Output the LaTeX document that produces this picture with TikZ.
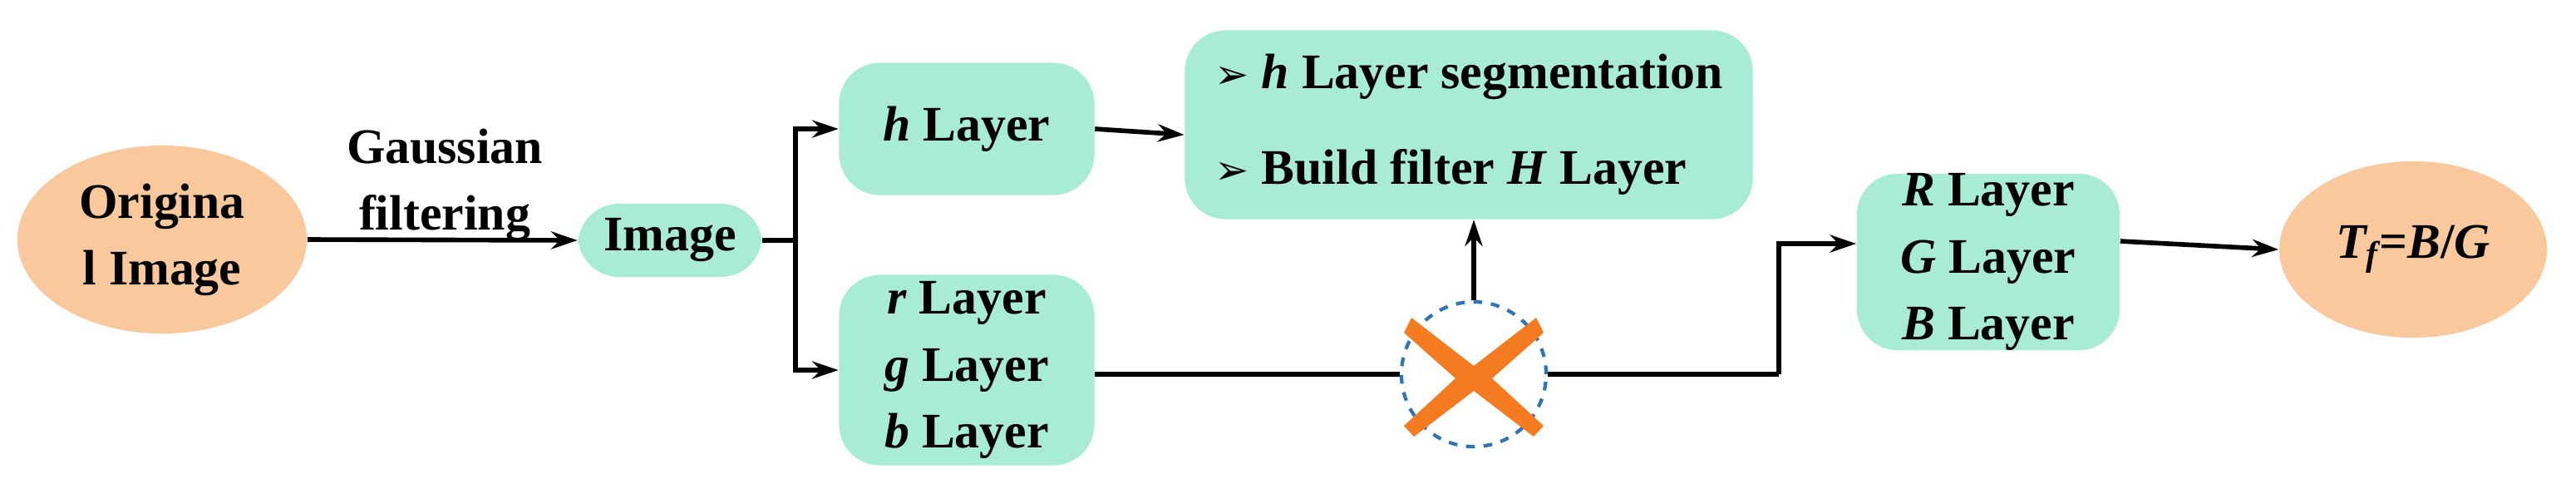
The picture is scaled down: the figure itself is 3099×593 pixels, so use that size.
\documentclass[tikz,border=0pt]{standalone}
\usepackage{fontspec}
\setmainfont{Liberation Serif}
\newfontfamily\dejavu{DejaVu Sans}
\usetikzlibrary{arrows.meta,shapes.geometric}
\definecolor{teal1}{HTML}{A8EBD6}
\definecolor{peach}{HTML}{F9C99D}
\definecolor{xorange}{HTML}{F47B20}
\definecolor{cblue}{HTML}{2E75B6}
\begin{document}
\begin{tikzpicture}[x=0.01cm,y=-0.01cm,
  txt/.style={font=\fontsize{17}{22.8}\selectfont\bfseries},
  box/.style={txt,fill=teal1,rounded corners=14pt,inner sep=0pt,align=center},
  ell/.style={txt,fill=peach,ellipse,inner sep=0pt,align=center},
  line/.style={line width=1.6pt},
  arr/.style={line,-{Stealth[length=9pt,width=6pt]}}]
\useasboundingbox (0,0) rectangle (3099,593);
\node[ell,minimum width=34.8mm,minimum height=22.6mm] (orig) at (195,288) {Origina\\l Image};
\node[box,minimum width=22.1mm,minimum height=8.8mm] (img) at (806,289) {Image};
\node[txt,align=center] (gf) at (535,222) {Gaussian\\filtering};
\node[box,minimum width=30.7mm,minimum height=15.9mm] (h) at (1163,155) {\textit{h} Layer};
\node[box,minimum width=30.7mm,minimum height=22.9mm] (rgb) at (1163,445) {\textit{r} Layer\\\textit{g} Layer\\\textit{b} Layer};
\node[box,minimum width=68.3mm,minimum height=22.7mm,align=left] (seg) at (1767,150)
  {{\dejavu\fontsize{14}{14}\selectfont ➢} \textit{h} Layer segmentation\\[10pt]{\dejavu\fontsize{14}{14}\selectfont ➢} Build filter \textit{H} Layer};
\node[circle,draw=cblue,dashed,line width=1.2pt,minimum size=17.4mm,inner sep=0pt] (mul) at (1773,450) {};
\fill[xorange,shift={(mul.center)}] (-75,-68) -- (0,-10) -- (75,-68) -- (84,-50) -- (22,5) -- (84,62) -- (72,75) -- (0,20) -- (-72,75) -- (-84,62) -- (-22,5) -- (-84,-50) -- cycle;
\node[box,minimum width=31.6mm,minimum height=18.2mm] (RGB) at (2392,315) {\textit{R} Layer\\\textit{G} Layer\\\textit{B} Layer};
\node[ell,minimum width=32.2mm,minimum height=21.2mm] (tf) at (2903,300) {\textit{T\textsubscript{f}}=\textit{B}/\textit{G}};
\coordinate (sp) at (957,289);
\coordinate (jn) at (2140,450);
\draw[arr] (orig.east) -- (img.west);
\draw[line] (img.east) -- (sp);
\draw[arr] (sp) |- (h.west);
\draw[arr] (sp) |- (rgb.west);
\draw[arr] (h.east) -- (seg.west |- 0,162);
\draw[line] (rgb.east |- mul.west) -- (mul.west);
\draw[arr] (mul.north) -- (seg.south -| mul.north);
\draw[line] (mul.east) -- (jn);
\draw[arr] (jn) |- (RGB.west |- 0,293);
\draw[arr] (RGB.east |- 0,290) -- (tf.west);
\end{tikzpicture}
\end{document}
